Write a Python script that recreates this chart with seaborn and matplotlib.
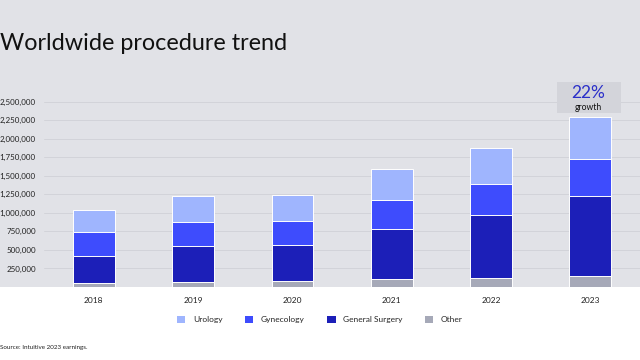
import matplotlib
matplotlib.use("Agg")
import matplotlib.pyplot as plt
import seaborn as sns
import numpy as np
import pandas as pd
from matplotlib.patches import Patch, Rectangle

years = ["2018", "2019", "2020", "2021", "2022", "2023"]
other = [50000, 70000, 75000, 105000, 115000, 145000]
general_surgery = [375000, 486000, 495000, 681000, 851000, 1077000]
gynecology = [311000, 324000, 326000, 391000, 428000, 509000]
urology = [306000, 351000, 350000, 419000, 485000, 557000]
series_names = ["Urology", "Gynecology", "General Surgery", "Other"]
yticks = [250000, 500000, 750000, 1000000, 1250000, 1500000, 1750000, 2000000, 2250000, 2500000]
growth_label = "22%"

colors = {"Urology": "#9fb5fe", "Gynecology": "#3e4cfd",
          "General Surgery": "#1c1fb8", "Other": "#a6a9b8"}

sns.set_theme(style="white")
plt.rcParams["font.family"] = ["Lato", "DejaVu Sans"]

bg = "#e1e2e7"
fig = plt.figure(figsize=(6.4, 3.6), dpi=100)
fig.patch.set_facecolor("white")
fig.patches.append(Rectangle((0, 0.2028), 1, 1 - 0.2028, transform=fig.transFigure,
                             facecolor=bg, edgecolor="none", zorder=-10))

ax = fig.add_axes([0.069, 0.2028, 0.931, 0.566])
ax.set_facecolor(bg)

df = pd.DataFrame({"year": years, "Other": other, "General Surgery": general_surgery,
                   "Gynecology": gynecology, "Urology": urology})
cum = {}
running = np.zeros(len(years))
for name in ["Other", "General Surgery", "Gynecology", "Urology"]:
    running = running + df[name].values
    cum[name] = running.copy()

for name in ["Urology", "Gynecology", "General Surgery", "Other"]:
    d = pd.DataFrame({"year": years, "val": cum[name]})
    sns.barplot(data=d, x="year", y="val", order=years, color=colors[name],
                saturation=1, width=0.42, edgecolor="white", linewidth=0.7, ax=ax, zorder=3)

ax.set_xlim(-0.5, 5.5)
ax.set_ylim(0, 2750000)
ax.set_yticks(yticks)
ax.set_yticklabels([f"{v:,}" for v in yticks], fontsize=5.8, color="#222222")
ax.tick_params(axis="y", length=0, pad=6)
ax.tick_params(axis="x", length=0, pad=7, labelsize=6, labelcolor="#222222")
ax.grid(axis="y", color="#d2d3d9", linewidth=0.7, zorder=0)
ax.set_axisbelow(True)
ax.set_xlabel("")
ax.set_ylabel("")
for s in ax.spines.values():
    s.set_visible(False)

# growth annotation
total_last = cum["Urology"][-1]
ax.add_patch(Rectangle((4.66, total_last + 60000), 0.645, 420000, facecolor="#d3d4da",
                       edgecolor="none", zorder=4, clip_on=False))
ax.text(4.98, total_last + 330000, growth_label, ha="center", va="center",
        fontsize=12.5, color="#2a2fc9", zorder=5, clip_on=False)
ax.text(4.98, total_last + 140000, "growth", ha="center", va="center",
        fontsize=6.2, color="#111111", zorder=5, clip_on=False)

fig.text(0.0, 0.88, "Worldwide procedure trend", fontsize=16.8, color="#111111",
         ha="left", va="center", fontweight="normal")

handles = [Patch(facecolor=colors[n], edgecolor="none") for n in series_names]
fig.legend(handles, series_names, loc="center", bbox_to_anchor=(0.5, 0.113), ncol=4,
           frameon=False, fontsize=6, handlelength=1.0, handleheight=1.0,
           columnspacing=2.7, handletextpad=0.9)

fig.text(0.0, 0.036, "Source: Intuitive 2023 earnings.", fontsize=4.5, color="#222222",
         ha="left", va="center")

fig.savefig("out.png", dpi=100, facecolor=fig.get_facecolor())
